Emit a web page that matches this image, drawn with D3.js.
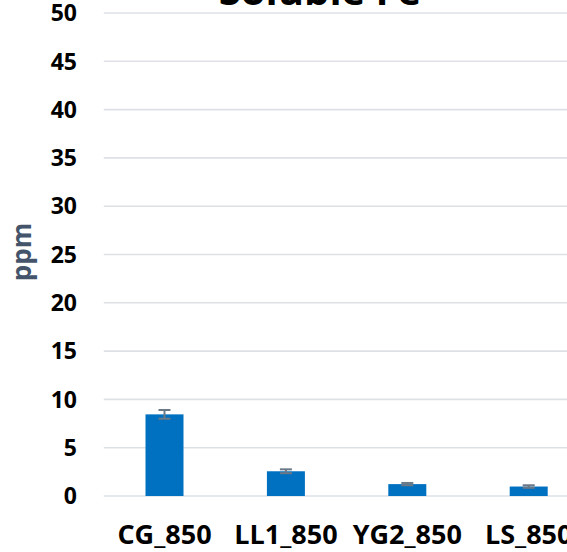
<!DOCTYPE html>
<html>
<head>
<meta charset="utf-8">
<script src="https://cdn.jsdelivr.net/npm/d3@7"></script>
<style>
  html, body { margin: 0; padding: 0; background: #fff; }
  svg { display: block; overflow: hidden; }
  text { font-family: "Open Sans", "Liberation Sans", sans-serif; font-weight: 700; }
</style>
</head>
<body>
<svg id="chart" width="567" height="552"></svg>
<script>
// Soluble Fe concentration per sample (ppm), with error half-widths
const categories = ["CG_850", "LL1_850", "YG2_850", "LS_850"];
const values = [8.45, 2.56, 1.23, 0.98];
const errors = [0.45, 0.2, 0.12, 0.13];
const yTicks = [0, 5, 10, 15, 20, 25, 30, 35, 40, 45, 50];
const title = "Soluble Fe";
const yLabel = "ppm";

const svg = d3.select("#chart");
const W = 567, H = 552;
const plot = { left: 103.8, right: 589.4, top: 13, bottom: 496 };

const x = d3.scaleBand()
  .domain(categories)
  .range([plot.left, plot.right])
  .paddingInner(0.687)
  .paddingOuter(0.3435);

const y = d3.scaleLinear()
  .domain([0, 50])
  .range([plot.bottom, plot.top]);

// horizontal gridlines
svg.append("g")
  .selectAll("line")
  .data(yTicks)
  .join("line")
  .attr("x1", plot.left)
  .attr("x2", W)
  .attr("y1", d => y(d))
  .attr("y2", d => y(d))
  .attr("stroke", "#dde1e6")
  .attr("stroke-width", 1.6);

// y tick labels
svg.append("g")
  .selectAll("text")
  .data(yTicks)
  .join("text")
  .attr("x", 77)
  .attr("y", d => y(d))
  .attr("dy", "0.36em")
  .attr("text-anchor", "end")
  .attr("font-size", 23)
  .attr("fill", "#000")
  .text(d => d);

// bars
svg.append("g")
  .selectAll("rect")
  .data(categories)
  .join("rect")
  .attr("x", d => x(d))
  .attr("width", x.bandwidth())
  .attr("y", (d, i) => y(values[i]))
  .attr("height", (d, i) => y(0) - y(values[i]))
  .attr("fill", "#0070c0");

// error bars
const eb = svg.append("g")
  .attr("stroke", "#6b7886")
  .attr("stroke-width", 2)
  .attr("fill", "none");
categories.forEach((c, i) => {
  const cx = x(c) + x.bandwidth() / 2;
  const hi = y(values[i] + errors[i]);
  const lo = y(values[i] - errors[i]);
  eb.append("line").attr("x1", cx).attr("x2", cx).attr("y1", hi).attr("y2", lo);
  eb.append("line").attr("x1", cx - 6).attr("x2", cx + 6).attr("y1", hi).attr("y2", hi);
  eb.append("line").attr("x1", cx - 6).attr("x2", cx + 6).attr("y1", lo).attr("y2", lo);
});

// x category labels
svg.append("g")
  .selectAll("text")
  .data(categories)
  .join("text")
  .attr("x", d => x(d) + x.bandwidth() / 2)
  .attr("y", 544)
  .attr("text-anchor", "middle")
  .attr("font-size", 27)
  .attr("fill", "#000")
  .text(d => d);

// axis title
svg.append("text")
  .attr("transform", "translate(31,252) rotate(-90)")
  .attr("text-anchor", "middle")
  .attr("font-size", 26)
  .attr("fill", "#44546a")
  .text(yLabel);

// chart title
svg.append("text")
  .attr("x", 320)
  .attr("y", 5)
  .attr("text-anchor", "middle")
  .attr("font-size", 40)
  .attr("fill", "#000")
  .text(title);
</script>
</body>
</html>
